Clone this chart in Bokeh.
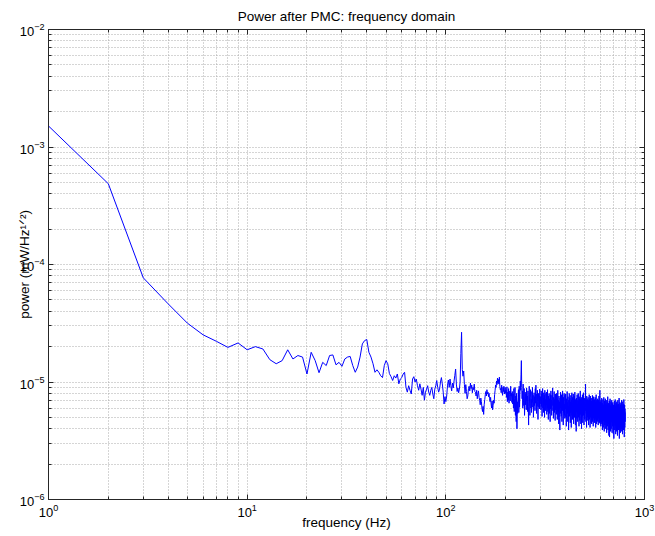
import numpy as np
from bokeh.plotting import figure
from bokeh.models import Range1d, LogAxis, FixedTicker, CustomJSTickFormatter
from bokeh.embed import file_html
from bokeh.resources import INLINE

# ---- data (power in units of 1e-6 mW/Hz^1/2, 1 Hz steps) ----
power_1_99 = [
    1510, 487, 77, 46.3, 31.7, 25.2, 22.2, 19.7, 21.5, 18.8,
    20.0, 19.1, 15.5, 14.3, 15.2, 18.8, 15.7, 16.8, 16.3, 11.7,
    17.9, 15.2, 12.0, 14.7, 13.8, 16.8, 17.0, 14.0, 14.7, 13.6,
    15.7, 16.3, 16.5, 13.8, 12.1, 13.4, 16.3, 21.1, 22.5, 23.0,
    17.9, 16.3, 14.3, 12.1, 12.7, 12.1, 11.3, 10.9, 13.8, 15.2,
    14.3, 11.8, 11.1, 10.3, 11.3, 10.8, 11.7, 9.65, 10.6, 10.9,
    11.7, 12.1, 9.0, 8.2, 9.3, 8.5, 7.9, 10.6, 11.1, 10.0,
    10.6, 9.3, 8.5, 9.65, 8.7, 7.7, 9.0, 7.0, 8.2, 8.7,
    9.3, 8.2, 7.7, 8.5, 9.0, 7.9, 7.2, 8.7, 9.3, 10.3,
    9.0, 8.2, 8.7, 10.0, 10.9, 9.65, 8.2, 6.5, 7.5,
]
power_100_299 = [
    6.8, 7.6, 9.4, 10.4, 9.0, 10.6, 9.3, 8.4, 9.8, 8.9,
    10.2, 11.4, 12.9, 9.6, 8.3, 8.9, 8.1, 8.7, 10.0, 17.4,
    26.5, 12.8, 11.2, 12.4, 9.5, 8.0, 9.5, 8.3, 7.2, 7.6,
    8.8, 9.2, 8.4, 9.8, 8.8, 9.4, 8.1, 9.0, 8.6, 9.6,
    8.3, 8.2, 7.6, 8.5, 7.2, 7.9, 8.4, 7.4, 7.0, 6.4,
    7.3, 6.8, 6.0, 5.6, 6.2, 5.3, 6.4, 7.1, 7.8, 8.3,
    7.6, 8.6, 7.9, 8.2, 7.5, 8.0, 7.2, 6.8, 7.4, 6.5,
    6.0, 6.9, 5.8, 6.3, 7.0, 6.6, 7.8, 8.5, 9.4, 9.0,
    10.2, 9.5, 10.8, 9.8, 10.5, 9.6, 11.0, 9.2, 8.6, 8.8,
    8.1, 9.4, 8.5, 7.7, 9.0, 8.3, 9.2, 7.9, 8.6, 9.0,
    8.0, 8.6, 7.4, 9.1, 6.8, 8.2, 7.0, 8.8, 6.6, 7.8,
    8.4, 6.9, 9.2, 7.6, 8.0, 6.7, 8.3, 6.5, 7.9, 6.0,
    8.8, 5.6, 7.2, 9.0, 5.2, 7.6, 4.6, 8.0, 4.0, 6.8,
    5.4, 7.4, 8.6, 5.5, 9.2, 6.1, 7.8, 10.2, 8.5, 11.5,
    15.2, 9.0, 7.2, 8.4, 6.0, 9.6, 7.0, 6.3, 8.8, 5.2,
    7.5, 8.2, 6.4, 7.9, 5.8, 8.9, 6.9, 7.6, 5.6, 8.4,
    6.2, 4.3, 7.8, 9.2, 6.5, 5.2, 7.4, 8.6, 6.0, 7.1,
    5.5, 8.3, 6.7, 9.0, 6.1, 7.7, 5.0, 6.8, 8.1, 6.3,
    7.5, 5.7, 8.8, 6.6, 9.4, 7.0, 5.4, 7.9, 6.2, 8.5,
    6.8, 4.8, 7.3, 8.0, 6.1, 7.6, 5.9, 8.7, 6.5, 7.2,
]
power_300_800 = [
    7.5, 5.8, 8.4, 6.2, 7.9, 5.1, 6.9, 8.8, 6.0, 7.3, 5.5, 8.1, 6.6, 7.7, 5.0, 8.5, 6.3, 7.1, 5.7, 8.0,
    6.4, 8.2, 5.3, 7.0, 6.0, 8.6, 5.6, 6.9, 4.8, 7.6, 6.2, 8.0, 5.4, 7.2, 6.5, 4.6, 7.8, 5.9, 8.4, 6.1,
    7.0, 5.2, 7.7, 6.3, 8.1, 8.9, 5.7, 6.8, 4.9, 7.4, 6.0, 8.3, 5.5, 7.1, 6.4, 4.7, 7.9, 5.8, 6.7, 7.5,
    5.3, 8.0, 6.1, 7.2, 4.8, 6.6, 8.5, 5.6, 7.0, 6.2, 4.4, 7.6, 5.9, 6.8, 5.0, 3.9, 7.3, 6.0, 8.2, 5.4,
    6.9, 5.1, 7.8, 6.3, 4.6, 7.1, 5.7, 8.4, 6.0, 6.6, 4.3, 7.4, 5.5, 6.8, 8.0, 5.2, 6.5, 4.9, 7.7, 5.9,
    6.4, 7.9, 5.0, 6.9, 4.2, 7.2, 5.8, 6.3, 8.3, 5.4, 6.7, 4.6, 7.5, 5.9, 6.1, 3.9, 7.0, 5.6, 8.0, 6.2,
    5.1, 7.3, 6.0, 4.5, 6.8, 5.5, 7.7, 6.3, 4.1, 7.0, 5.8, 8.1, 5.2, 6.6, 4.8, 7.4, 6.1, 5.4, 7.9, 6.0,
    4.4, 6.9, 5.7, 7.6, 5.0, 6.4, 8.2, 5.5, 6.2, 4.3, 7.1, 5.9, 6.7, 3.8, 7.3, 5.6, 6.5, 4.9, 7.8, 5.8,
    6.3, 4.6, 7.0, 5.4, 8.0, 6.1, 5.0, 6.8, 4.2, 7.5, 5.7, 6.4, 4.7, 7.2, 5.9, 8.4, 5.3, 6.6, 4.4, 7.1,
    5.8, 6.5, 4.0, 7.4, 5.5, 6.9, 5.1, 7.8, 6.0, 4.5, 7.0, 5.6, 6.3, 8.1, 5.2, 6.7, 4.3, 7.3, 5.9, 6.2,
    4.8, 7.2, 5.7, 6.6, 8.0, 9.6, 6.1, 4.6, 7.0, 5.4, 6.4, 4.1, 7.6, 5.8, 6.2, 4.7, 7.1, 5.3, 6.8, 5.0,
    7.4, 5.6, 6.3, 4.3, 7.0, 5.2, 6.6, 7.8, 4.8, 6.0, 5.5, 7.2, 4.1, 6.5, 5.8, 7.6, 5.0, 6.2, 4.5, 6.9,
    5.4, 6.7, 4.4, 7.3, 5.9, 5.1, 6.4, 7.7, 4.6, 6.1, 5.3, 7.0, 4.2, 6.6, 5.6, 7.5, 4.9, 6.2, 5.7, 6.9,
    4.5, 7.1, 5.2, 6.3, 4.8, 7.4, 5.8, 6.0, 4.1, 6.8, 5.5, 7.8, 5.0, 6.4, 4.4, 7.0, 5.7, 6.2, 4.7, 6.6,
    5.3, 7.2, 4.6, 6.5, 5.9, 4.3, 7.0, 5.5, 6.1, 4.9, 7.6, 5.2, 6.7, 4.5, 6.0, 5.6, 8.5, 5.0, 6.3, 4.4,
    6.8, 5.1, 5.9, 4.2, 7.0, 5.4, 6.3, 4.6, 5.7, 7.3, 4.4, 6.1, 5.0, 6.6, 3.9, 5.8, 4.8, 7.1, 5.3, 6.0,
    4.1, 6.4, 5.5, 4.7, 7.4, 5.2, 6.2, 3.8, 5.9, 4.9, 6.9, 5.6, 4.3, 6.5, 5.1, 7.2, 4.6, 5.8, 4.0, 6.3,
    5.4, 4.5, 7.0, 5.0, 6.1, 3.7, 5.7, 4.8, 6.7, 5.3, 4.2, 6.4, 5.6, 7.5, 4.6, 5.9, 3.9, 6.2, 5.1, 4.4,
    6.6, 5.2, 3.5, 5.8, 4.7, 6.9, 5.0, 3.4, 6.0, 5.5, 4.3, 7.2, 5.3, 4.8, 6.3, 3.8, 5.6, 4.5, 6.8, 5.1,
    4.0, 6.2, 5.4, 4.6, 7.0, 5.0, 5.9, 3.7, 6.5, 4.9, 5.7, 4.2, 6.7, 5.3, 4.4, 6.0, 5.1, 3.6, 6.4, 5.5,
    4.7, 3.3, 6.1, 5.2, 4.5, 6.9, 4.9, 5.8, 3.9, 6.3, 5.0, 4.3, 7.1, 5.4, 4.6, 6.0, 3.6, 5.6, 4.8, 6.6,
    5.1, 4.1, 6.2, 5.5, 3.8, 6.8, 4.7, 5.9, 4.4, 6.4, 5.2, 3.5, 6.0, 4.9, 7.0, 5.3, 4.2, 5.7, 6.5, 4.6,
    5.8, 3.9, 6.3, 5.0, 4.4, 7.3, 5.4, 3.3, 6.1, 4.8, 5.6, 4.1, 6.7, 5.2, 4.5, 6.0, 3.7, 5.5, 4.9, 6.4,
    5.0, 4.3, 6.6, 5.3, 3.8, 5.9, 4.7, 7.0, 5.1, 4.0, 6.2, 5.6, 4.4, 6.8, 4.9, 3.6, 5.7, 5.2, 4.6, 6.3,
    4.2, 5.8, 5.0, 6.5, 3.9, 5.4, 4.7, 7.1, 5.1, 4.4, 6.0, 3.4, 5.6, 4.8, 6.4, 5.2, 4.1, 5.9, 5.3, 4.6,
    5.5,
]

power = np.array(power_1_99 + power_100_299 + power_300_800) * 1e-6
freq = np.arange(1, len(power) + 1)

x_major = [1, 10, 100, 1000]
y_major = [1e-6, 1e-5, 1e-4, 1e-3, 1e-2]

title_text = "Power after PMC: frequency domain"
xlabel_text = "frequency (Hz)"
ylabel_text = "power (mW/Hz\u00b9\u141f\u00b2)"

FONT = "Liberation Sans"
AX = "#262626"
GRID = "#ababab"

x_minor = [m * d for d in [1, 10, 100] for m in range(2, 10)]
y_minor = [m * d for d in [1e-6, 1e-5, 1e-4, 1e-3] for m in range(2, 10)]
xt = FixedTicker(ticks=x_major, minor_ticks=x_minor)
yt = FixedTicker(ticks=y_major, minor_ticks=y_minor)

p = figure(width=655, height=536, x_axis_type="log", y_axis_type="log",
           x_range=Range1d(1, 1000), y_range=Range1d(1e-6, 1e-2),
           output_backend="svg", toolbar_location=None,
           min_border_left=48, min_border_right=11,
           min_border_top=29, min_border_bottom=37)
p.background_fill_color = "white"
p.border_fill_color = "white"
p.outline_line_color = AX

p.title.text = title_text
p.title.align = "center"
p.title.text_font = FONT
p.title.text_font_size = "13.5px"
p.title.text_font_style = "normal"
p.title.text_color = "black"
p.title.standoff = 11

xa = p.xaxis[0]
ya = p.yaxis[0]
xa.ticker = xt
ya.ticker = yt
for ax in (xa, ya):
    ax.major_tick_in = 5
    ax.major_tick_out = 0
    ax.minor_tick_in = 3
    ax.minor_tick_out = 0
    ax.axis_line_color = AX
    ax.major_tick_line_color = AX
    ax.minor_tick_line_color = AX
    ax.major_label_text_font = FONT
    ax.major_label_text_color = "black"
    ax.major_label_text_font_size = "13px"
    ax.major_label_standoff = 4
    ax.axis_label_text_font = FONT
    ax.axis_label_text_font_size = "13.5px"
    ax.axis_label_text_font_style = "normal"
    ax.axis_label_text_color = "black"

xa.axis_label = xlabel_text
xa.axis_label_standoff = -5
ya.axis_label = ylabel_text
ya.axis_label_standoff = -15

blank = CustomJSTickFormatter(code="return ''")
top = LogAxis(ticker=xt, formatter=blank)
right = LogAxis(ticker=yt, formatter=blank)
for ax in (top, right):
    ax.major_tick_in = 5
    ax.major_tick_out = 0
    ax.minor_tick_in = 3
    ax.minor_tick_out = 0
    ax.axis_line_color = AX
    ax.major_tick_line_color = AX
    ax.minor_tick_line_color = AX
    ax.major_label_text_font_size = "1px"
    ax.major_label_standoff = 0
p.add_layout(top, "above")
p.add_layout(right, "right")

for g, t in ((p.xgrid[0], xt), (p.ygrid[0], yt)):
    g.ticker = t
    g.grid_line_color = GRID
    g.grid_line_dash = "1 2"
    g.grid_line_width = 1
    g.minor_grid_line_color = GRID
    g.minor_grid_line_dash = "1 2"
    g.minor_grid_line_width = 1

p.line(freq, power, line_color="#0000ff", line_width=1)

open("out.html", "w").write(file_html(p, INLINE))
